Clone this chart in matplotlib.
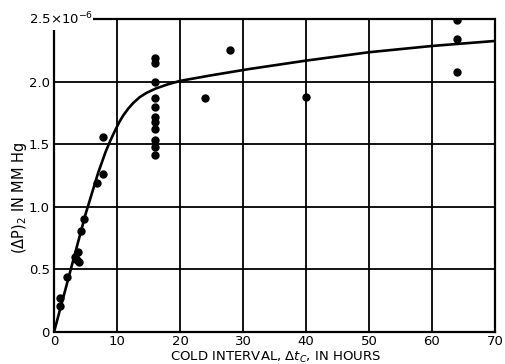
import numpy as np
import matplotlib
matplotlib.use("Agg")
import matplotlib.pyplot as plt

# measured points: cold interval (hours) vs (dP)2 in units of 1e-6 mm Hg
hours = [0.9, 1.0, 2.0, 3.3, 3.85, 3.7, 4.0, 4.25, 4.75, 6.8, 7.8, 7.8,
         16, 16, 16, 16, 16, 16, 16, 16, 16, 16, 16,
         24, 28, 40, 64, 64, 64]
dp2 = [0.21, 0.27, 0.44, 0.60, 0.64, 0.575, 0.555, 0.81, 0.90, 1.19, 1.26, 1.555,
       2.19, 2.145, 2.0, 1.87, 1.80, 1.715, 1.675, 1.62, 1.53, 1.48, 1.415,
       1.87, 2.25, 1.88, 2.49, 2.34, 2.08]

# fitted curve
curve_x = [0, 5.0, 7.0, 8.2, 9.0, 9.7, 10.4, 11.0, 11.8, 12.6, 13.6, 14.7,
           16.2, 17.9, 20, 25, 31, 40, 50, 60, 70]
curve_y = [0, 0.94, 1.27, 1.44, 1.535, 1.61, 1.68, 1.73, 1.785, 1.83, 1.875, 1.91,
           1.945, 1.975, 2.005, 2.05, 2.10, 2.167, 2.234, 2.284, 2.324]

x_ticks = [0, 10, 20, 30, 40, 50, 60, 70]
y_ticks = [0, 0.5, 1.0, 1.5, 2.0]
y_tick_labels = ["0", "0.5", "1.0", "1.5", "2.0"]

plt.rcParams["font.family"] = "DejaVu Sans"

fig = plt.figure(figsize=(5.05, 3.64), dpi=100)
ax = fig.add_axes([0.107, 0.088, 0.873, 0.860])

ax.set_xlim(0, 70)
ax.set_ylim(0, 2.5)

# grid lines, only the inner ones (edges are drawn as frame)
for xv in x_ticks[1:-1]:
    ax.axvline(xv, color="black", lw=1.3, zorder=1)
for yv in y_ticks[1:]:
    ax.axhline(yv, color="black", lw=1.3, zorder=1)

# frame: top-left corner left open for the scale label
for side in ["top", "left"]:
    ax.spines[side].set_visible(False)
for side in ["bottom", "right"]:
    ax.spines[side].set_linewidth(1.6)
ax.plot([0.088, 1.0], [1.0, 1.0], transform=ax.transAxes, color="black",
        lw=1.6, clip_on=False, solid_capstyle="butt")
ax.plot([0.0, 0.0], [0.0, 0.965], transform=ax.transAxes, color="black",
        lw=1.6, clip_on=False, solid_capstyle="butt")

ax.plot(curve_x, curve_y, color="black", lw=1.9, zorder=3,
        solid_joinstyle="round")
ax.plot(hours, dp2, "o", color="black", ms=5, zorder=4)

ax.set_xticks(x_ticks)
ax.set_yticks(y_ticks)
ax.set_yticklabels(y_tick_labels)
ax.tick_params(length=0, labelsize=9.5)
ax.tick_params(axis="x", pad=2)
ax.tick_params(axis="y", pad=3)

ax.text(0.088, 1.0, r"2.5$\times$10$^{-6}$", transform=ax.transAxes,
        ha="right", va="center", fontsize=9.5)

fig.text(0.545, 0.009, r"COLD INTERVAL, $\Delta t_C$, IN HOURS",
         ha="center", va="baseline", fontsize=9.5)
fig.text(0.038, 0.456, r"$(\Delta \mathrm{P})_2$ IN MM Hg", rotation=90,
         ha="center", va="center", fontsize=10.5)

fig.savefig("out.png", dpi=100)
